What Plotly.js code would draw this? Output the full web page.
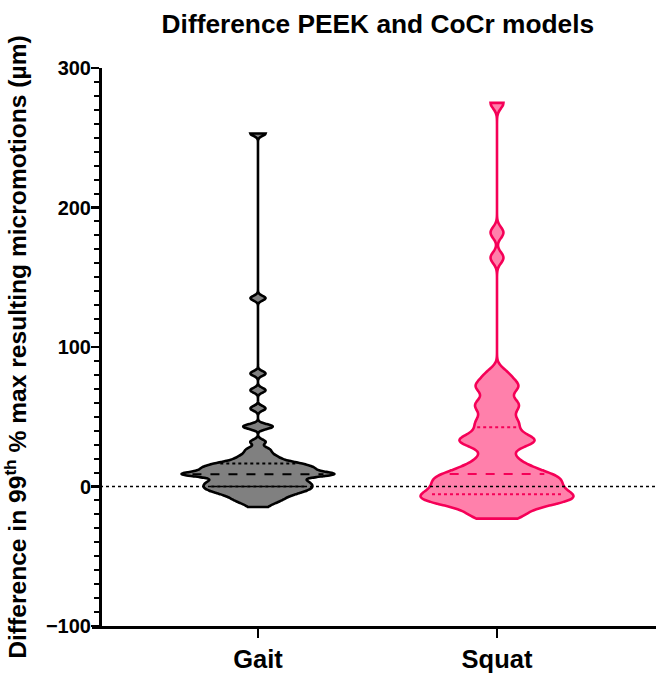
<!DOCTYPE html>
<html><head><meta charset="utf-8">
<script src="https://cdn.plot.ly/plotly-3.0.1.min.js"></script>
<style>html,body{margin:0;padding:0;background:#fff}</style>
</head><body><div id="chart" style="width:656px;height:675px"></div>
<script>
// ---- data ----
const categories = ['Gait', 'Squat'];
const gaitValues = [
  -14.7, -12.0,
  -10.5, -9.2, -8.0, -6.9, -5.9,
  -5.0, -4.3, -3.6, -2.9, -2.3, -1.7, -1.1, -0.5,
  0.0, 0.6, 1.2, 1.8, 2.4, 3.0, 3.6, 4.2,
  4.9, 5.6, 6.4, 7.3,
  8.3, 8.5, 8.6, 8.7, 8.8, 9.0, 9.2,
  10.1, 10.8, 11.4, 12.0, 12.5, 13.0, 13.5, 14.1, 14.7, 15.3, 15.9, 16.5,
  17.3, 18.3, 19.5, 21.0,
  22.6, 24.9, 27.3, 32.0,
  42.6, 43.3,
  56, 69, 81, 135, 253
];
const squatValues = [
  -23, -21.5, -20, -17,
  -14.5, -13.2, -12, -11.4, -10.8, -9.6,
  -8.5, -8.0, -7.5, -7, -6.5, -5.5, -4.5, -3.5, -2.5, -1.5, -0.5, 0.5, 1.5, 2.5, 3.5, 4.5,
  5.5, 6.5, 7.3, 8.0, 9.0, 10.5, 12.0,
  13.5, 15.5, 18, 21, 25,
  30, 31.5, 32.2, 33, 34.5, 36,
  39.5, 42.5, 45.5, 47.5, 51.5, 56, 58, 60, 64, 69.5, 71.5, 73.5, 77.5, 82,
  164, 182, 275
];
const seriesValues = [gaitValues, squatValues];
const bandwidths = [1.7, 4];
const yTickValues = [-100, 0, 100, 200, 300];

// ---- styles ----
const fillColors = ['#808080', '#FF80AB'];
const lineColors = ['#000000', '#F50057'];
const violinWidth = 0.64;
const FONT = 'Liberation Sans, Arial, Helvetica, sans-serif';

// ---- helpers: replicate Plotly's gaussian KDE to size the quartile lines ----
function quantile(sorted, p) {
  const pos = (sorted.length - 1) * p;
  const lo = Math.floor(pos), hi = Math.ceil(pos);
  return sorted[lo] + (sorted[hi] - sorted[lo]) * (pos - lo);
}
function makeKDE(vals, bw) {
  const f = 1 / (vals.length * bw * Math.sqrt(2 * Math.PI));
  return x => { let s = 0; for (const v of vals) { const u = (x - v) / bw; s += Math.exp(-0.5 * u * u); } return f * s; };
}
function maxKDE(vals, bw) {
  const lo = Math.min(...vals), hi = Math.max(...vals);
  const n = Math.ceil((hi - lo) / (bw / 3));
  const step = (hi - lo) / n;
  const k = makeKDE(vals, bw);
  let m = 0;
  for (let i = 0, t = lo; t < hi + step / 2; i++, t += step) m = Math.max(m, k(t));
  return m;
}

const traces = [];
categories.forEach((cat, i) => {
  traces.push({
    type: 'violin', name: cat, x0: i, y: seriesValues[i],
    orientation: 'v', bandwidth: bandwidths[i], spanmode: 'hard',
    scalemode: 'width', scalegroup: 'g' + i, width: violinWidth,
    points: false, box: {visible: false}, meanline: {visible: false},
    fillcolor: fillColors[i], line: {color: lineColors[i], width: 2.6},
    hoverinfo: 'skip', showlegend: false
  });
});
categories.forEach((cat, i) => {
  const sorted = seriesValues[i].slice().sort((a, b) => a - b);
  const kde = makeKDE(sorted, bandwidths[i]);
  const mx = maxKDE(sorted, bandwidths[i]);
  [[0.25, 'dot'], [0.5, 'dash'], [0.75, 'dot']].forEach(([p, dash]) => {
    const q = quantile(sorted, p);
    const hw = kde(q) / mx * violinWidth / 2 * 0.86;
    traces.push({
      type: 'scatter', mode: 'lines', x: [i - hw, i + hw], y: [q, q],
      line: {color: lineColors[i], width: 2, dash: dash},
      hoverinfo: 'skip', showlegend: false
    });
  });
});

const layout = {
  width: 656, height: 675,
  margin: {l: 92, r: 0, t: 68, b: 49},
  paper_bgcolor: '#fff', plot_bgcolor: '#fff',
  showlegend: false, violinmode: 'overlay',
  font: {family: FONT, color: '#000'},
  title: {
    text: 'Difference PEEK and CoCr models',
    font: {family: FONT, size: 26.3, weight: 'bold', color: '#000'},
    xref: 'container', x: 0.576, xanchor: 'center',
    yref: 'container', y: 0.965, yanchor: 'middle'
  },
  xaxis: {
    range: [-0.6944, 1.6652], tickvals: [0, 1], ticktext: categories,
    showgrid: false, zeroline: false, showline: true, linecolor: '#000', linewidth: 2.5,
    ticks: 'outside', ticklen: 9, tickwidth: 2.5, tickcolor: '#000',
    tickfont: {family: FONT, size: 25.5, weight: 'bold', color: '#000'},
    fixedrange: true
  },
  yaxis: {
    range: [-100, 300], tickvals: yTickValues,
    anchor: 'free', position: 0.0142,
    showgrid: false, zeroline: false, showline: true, linecolor: '#000', linewidth: 2.5,
    ticks: 'outside', ticklen: 8, tickwidth: 2.5, tickcolor: '#000',
    ticklabelstandoff: -4,
    minor: {dtick: 10, ticks: 'outside', ticklen: 5, tickwidth: 2, tickcolor: '#000', showgrid: false},
    tickfont: {family: FONT, size: 20, weight: 'bold', color: '#000'},
    title: {
      text: 'Difference in 99<sup>th</sup> % max resulting micromotions (µm)',
      font: {family: FONT, size: 24.6, weight: 'bold', color: '#000'},
      standoff: 12
    },
    fixedrange: true
  },
  shapes: [{
    type: 'line', xref: 'paper', x0: 0.0142, x1: 1, yref: 'y', y0: 0, y1: 0,
    line: {color: '#000', width: 1.5, dash: 'dot'}, layer: 'above'
  }]
};

Plotly.newPlot('chart', traces, layout, {displayModeBar: false, staticPlot: true});
</script>
</body></html>
